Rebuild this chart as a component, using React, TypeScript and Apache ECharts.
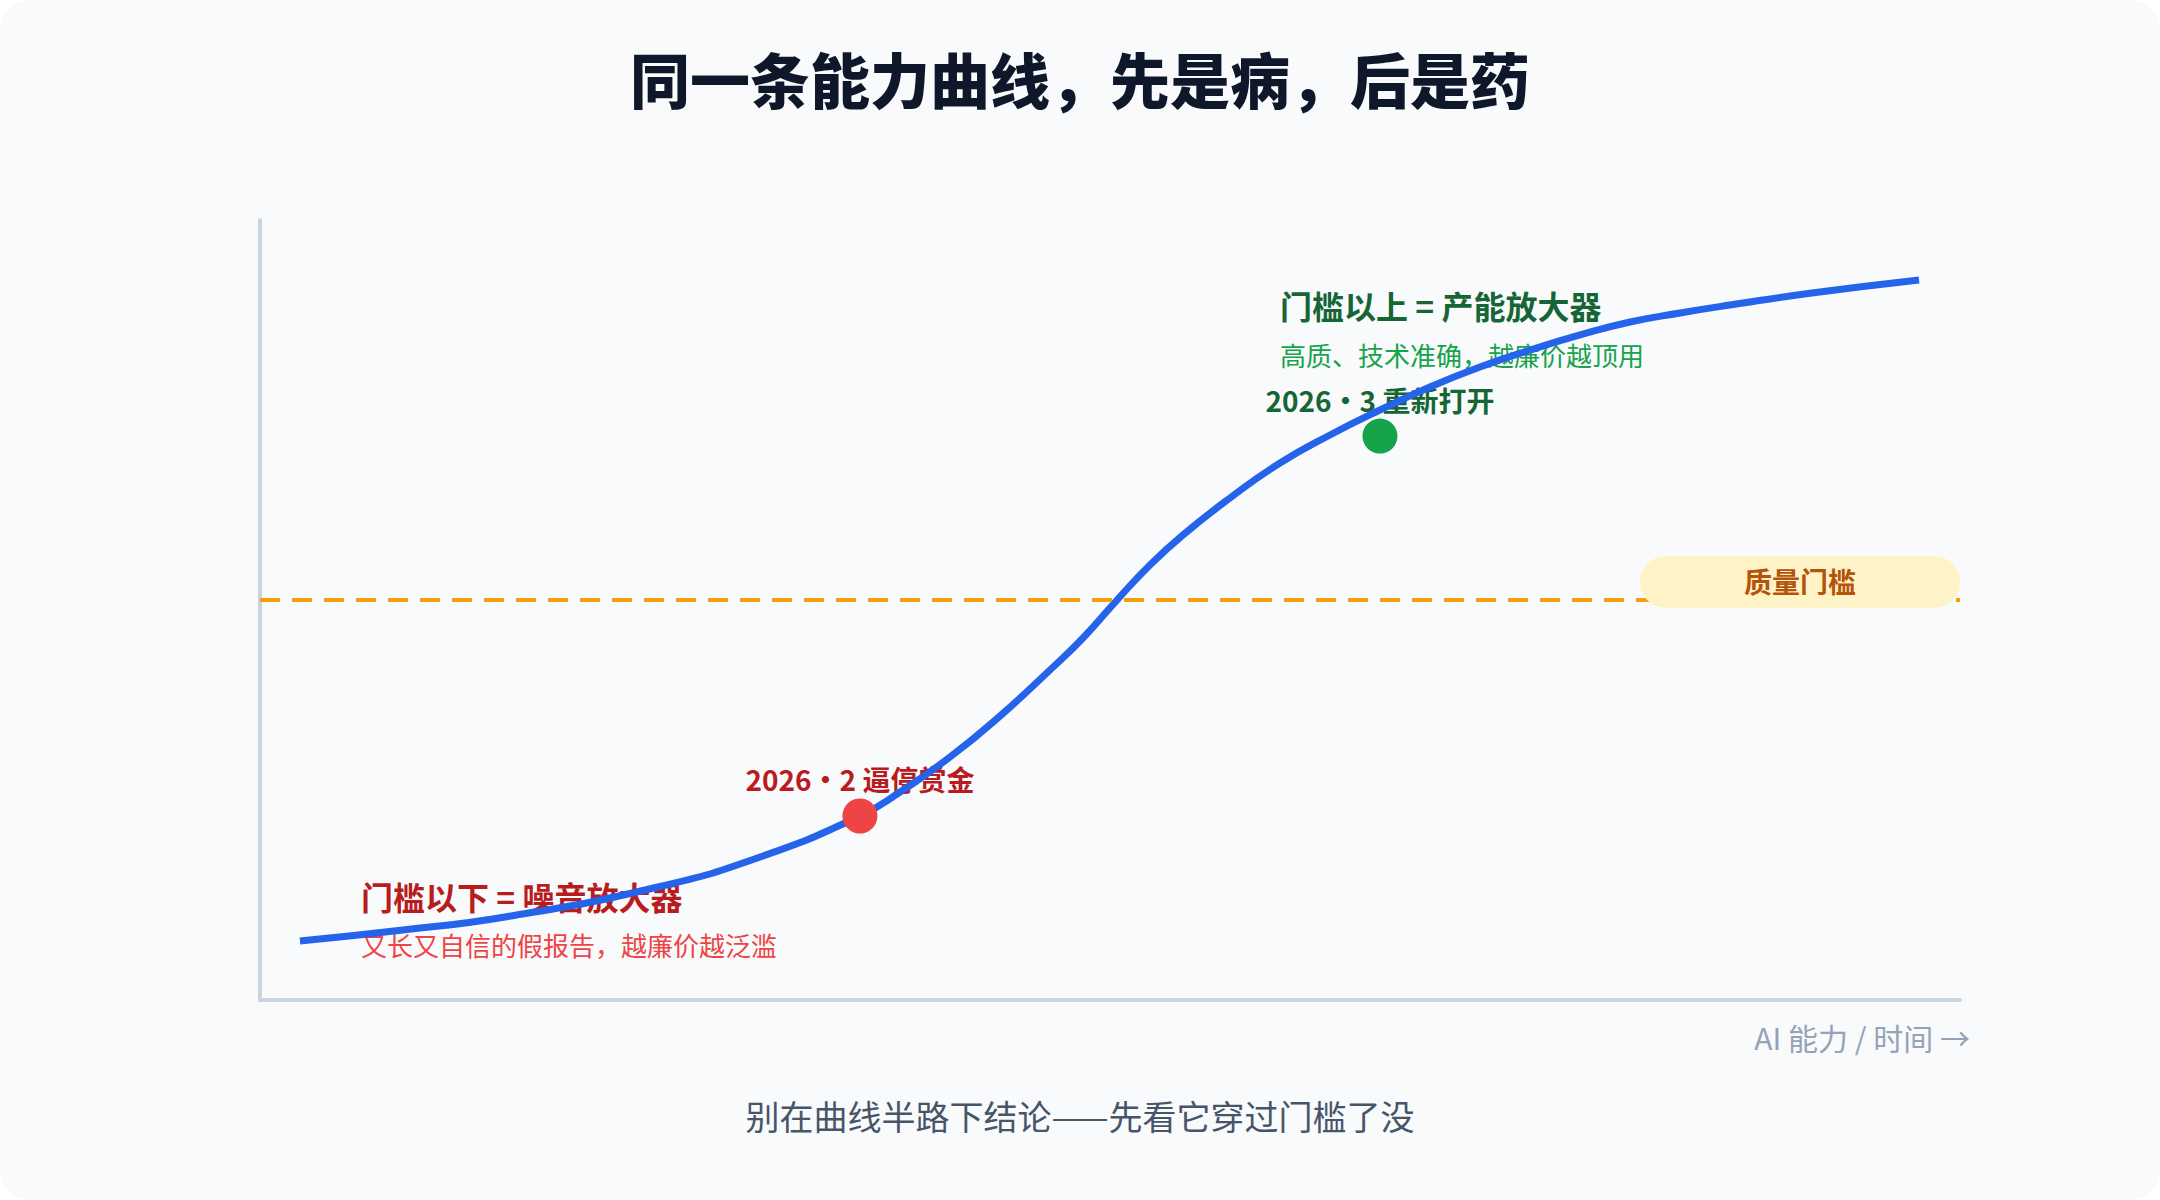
import React from 'react';
import * as echarts from 'echarts';

const FONT = "'Noto Sans CJK SC', 'Noto Sans', sans-serif";

// 能力曲线（x: 时间/能力 0-100，y: 质量 0-100）
const curveX = [2.35, 8.41, 14.41, 23.41, 29.41, 35.29, 37.65, 40.59, 43.53, 46.47, 48.41, 50.41, 52.35, 54.29, 57.06, 60.0, 62.94, 65.88, 68.82, 71.76, 74.71, 77.65, 80.59, 83.53, 86.47, 91.29, 97.59];
const curveY = [7.56, 8.97, 10.64, 14.49, 18.33, 23.59, 26.67, 31.15, 36.41, 42.31, 46.41, 51.28, 55.77, 59.62, 64.36, 68.85, 72.44, 75.64, 78.59, 81.15, 83.33, 85.26, 86.92, 88.08, 89.1, 90.64, 92.31];

// 质量门槛
const threshold = 51.3;

// 两个时间点
const markerX = [35.29, 65.88];
const markerY = [23.59, 72.3];
const markerLabels = ['2026·2 逼停赏金', '2026·3 重新打开'];
const markerColors = ['#ef4444', '#16a34a'];
const markerTextColors = ['#b91c1c', '#166534'];

const App = () => {
  const chartRef = React.useRef(null);

  React.useEffect(() => {
    const myChart = echarts.init(chartRef.current, null, { renderer: 'svg' });

    const curveData = curveX.map((x, i) => [x, curveY[i]]);
    const markerData = markerX.map((x, i) => [x, markerY[i]]);

    const hiddenAxis = {
      type: 'value',
      min: 0,
      max: 100,
      axisLine: { show: true, lineStyle: { color: '#cbd5e1', width: 4 } },
      axisTick: { show: false },
      axisLabel: { show: false },
      splitLine: { show: false },
    };

    const option: any = {
      animation: false,
      textStyle: { fontFamily: FONT },
      title: {
        text: '同一条能力曲线，先是病，后是药',
        left: 'center',
        top: 47,
        padding: 0,
        textStyle: { fontFamily: FONT, fontSize: 60, fontWeight: 900, color: '#0f172a' },
      },
      grid: { left: 260, right: 200, top: 220, bottom: 200 },
      xAxis: hiddenAxis,
      yAxis: hiddenAxis,
      graphic: [
        // 门槛以上 / 以下 说明
        {
          type: 'text',
          z: 0,
          style: { text: '门槛以上 = 产能放大器', x: 1280, y: 305, verticalAlign: 'middle', font: `bold 32px ${FONT}`, fill: '#166534' },
        },
        {
          type: 'text',
          z: 0,
          style: { text: '高质、技术准确，越廉价越顶用', x: 1280, y: 354, verticalAlign: 'middle', font: `26px ${FONT}`, fill: '#16a34a' },
        },
        {
          type: 'text',
          z: 0,
          style: { text: '门槛以下 = 噪音放大器', x: 361, y: 896, verticalAlign: 'middle', font: `bold 32px ${FONT}`, fill: '#b91c1c' },
        },
        {
          type: 'text',
          z: 0,
          style: { text: '又长又自信的假报告，越廉价越泛滥', x: 361, y: 944, verticalAlign: 'middle', font: `26px ${FONT}`, fill: '#ef4444' },
        },
        // 门槛标签
        {
          type: 'rect',
          z: 100,
          shape: { x: 1640, y: 556, width: 320, height: 52, r: 26 },
          style: { fill: '#fef3c7' },
        },
        {
          type: 'text',
          z: 101,
          style: { text: '质量门槛', x: 1800, y: 581, align: 'center', verticalAlign: 'middle', font: `bold 28px ${FONT}`, fill: '#b45309' },
        },
        // 坐标轴名
        {
          type: 'text',
          z: 0,
          style: { text: 'AI 能力 / 时间 →', x: 1970, y: 1037, align: 'right', verticalAlign: 'middle', font: `30px ${FONT}`, fill: '#94a3b8' },
        },
        // 底部结论
        {
          type: 'text',
          z: 0,
          style: { text: '别在曲线半路下结论——先看它穿过门槛了没', x: 1080, y: 1115, align: 'center', verticalAlign: 'middle', font: `34px ${FONT}`, fill: '#475569' },
        },
      ],
      series: [
        {
          // 标注文字 + 门槛虚线（在曲线下方）
          type: 'scatter',
          z: 1,
          symbolSize: 35,
          itemStyle: { color: 'transparent', opacity: 1 },
          silent: true,
          data: markerData.map((v, i) => ({
            value: v,
            label: { color: markerTextColors[i] },
          })),
          label: {
            show: true,
            position: 'top',
            distance: 5,
            fontSize: 28,
            fontWeight: 'bold',
            fontFamily: FONT,
            formatter: (p: any) => markerLabels[p.dataIndex],
          },
          markLine: {
            silent: true,
            symbol: 'none',
            label: { show: false },
            lineStyle: { color: '#f59e0b', width: 4, type: [20, 12] },
            data: [{ yAxis: threshold }],
          },
        },
        {
          type: 'line',
          z: 2,
          data: curveData,
          smooth: 0.5,
          showSymbol: false,
          lineStyle: { color: '#2563eb', width: 7 },
        },
        {
          type: 'scatter',
          z: 3,
          symbolSize: 35,
          data: markerData.map((v, i) => ({
            value: v,
            itemStyle: { color: markerColors[i], opacity: 1 },
          })),
        },
      ],
    };

    myChart.setOption(option);

    return () => {
      myChart.dispose();
    };
  }, []);

  return (
    <div
      ref={chartRef}
      style={{
        position: 'absolute',
        left: 0,
        top: 0,
        width: '2160px',
        height: '1200px',
        background: '#f8fafc',
        borderRadius: '30px',
        overflow: 'hidden',
      }}
    />
  );
};

export default App;
